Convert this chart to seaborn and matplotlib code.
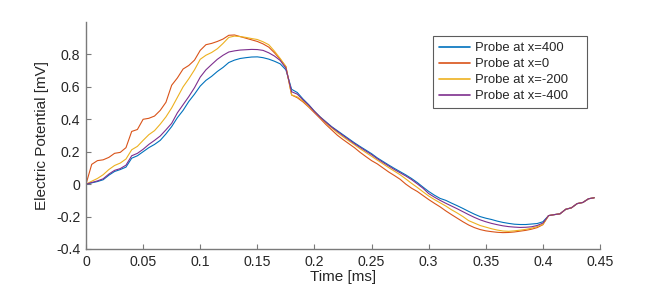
import numpy as np
import pandas as pd
import matplotlib
matplotlib.use('Agg')
import matplotlib.pyplot as plt
import seaborn as sns

# sample times [ms], one every 0.005 ms
time_ms = np.round(np.arange(0, 0.4451, 0.005), 3)

probe_400 = [0, 0.008, 0.016, 0.027, 0.055, 0.078, 0.09, 0.105, 0.16, 0.175,
             0.2, 0.225, 0.245, 0.27, 0.31, 0.355, 0.41, 0.455, 0.51, 0.555,
             0.605, 0.64, 0.665, 0.695, 0.72, 0.75, 0.765, 0.775, 0.78, 0.784,
             0.785, 0.78, 0.771, 0.758, 0.742, 0.705, 0.585, 0.565, 0.525, 0.49,
             0.45, 0.415, 0.385, 0.355, 0.33, 0.305, 0.28, 0.255, 0.232, 0.21,
             0.188, 0.162, 0.14, 0.118, 0.097, 0.077, 0.057, 0.035, 0.01, -0.018,
             -0.045, -0.068, -0.088, -0.1, -0.117, -0.133, -0.15, -0.168, -0.185, -0.2,
             -0.21, -0.218, -0.228, -0.236, -0.242, -0.247, -0.249, -0.249, -0.246, -0.243,
             -0.232, -0.194, -0.188, -0.183, -0.155, -0.146, -0.12, -0.113, -0.09, -0.084]

probe_0 = [0, 0.122, 0.145, 0.15, 0.165, 0.19, 0.196, 0.225, 0.325, 0.337,
           0.4, 0.406, 0.42, 0.455, 0.505, 0.61, 0.655, 0.71, 0.732, 0.765,
           0.825, 0.86, 0.868, 0.88, 0.895, 0.918, 0.92, 0.91, 0.9, 0.89,
           0.88, 0.865, 0.845, 0.81, 0.77, 0.725, 0.55, 0.533, 0.507, 0.475,
           0.44, 0.405, 0.368, 0.335, 0.302, 0.275, 0.25, 0.225, 0.196, 0.17,
           0.145, 0.125, 0.1, 0.075, 0.053, 0.03, 0.0, -0.025, -0.045, -0.07,
           -0.095, -0.118, -0.14, -0.165, -0.188, -0.21, -0.232, -0.252, -0.268, -0.28,
           -0.288, -0.293, -0.297, -0.299, -0.298, -0.295, -0.29, -0.285, -0.278, -0.268,
           -0.25, -0.194, -0.188, -0.183, -0.155, -0.146, -0.12, -0.113, -0.09, -0.084]

probe_m200 = [0, 0.018, 0.035, 0.058, 0.09, 0.115, 0.13, 0.155, 0.212, 0.233,
              0.27, 0.305, 0.33, 0.37, 0.415, 0.47, 0.535, 0.6, 0.65, 0.705,
              0.77, 0.795, 0.812, 0.835, 0.868, 0.905, 0.913, 0.91, 0.905, 0.898,
              0.892, 0.878, 0.86, 0.82, 0.775, 0.725, 0.55, 0.538, 0.512, 0.48,
              0.447, 0.412, 0.378, 0.347, 0.318, 0.292, 0.267, 0.243, 0.218, 0.195,
              0.172, 0.148, 0.125, 0.102, 0.08, 0.058, 0.032, 0.005, -0.02, -0.047,
              -0.073, -0.095, -0.115, -0.135, -0.158, -0.178, -0.2, -0.225, -0.24, -0.255,
              -0.265, -0.275, -0.283, -0.289, -0.291, -0.288, -0.284, -0.279, -0.272, -0.262,
              -0.248, -0.194, -0.188, -0.183, -0.155, -0.146, -0.12, -0.113, -0.09, -0.084]

probe_m400 = [0, 0.01, 0.02, 0.033, 0.062, 0.085, 0.096, 0.117, 0.175, 0.19,
              0.215, 0.245, 0.27, 0.297, 0.335, 0.375, 0.44, 0.49, 0.54, 0.595,
              0.66, 0.705, 0.738, 0.77, 0.795, 0.815, 0.822, 0.827, 0.829, 0.831,
              0.83, 0.825, 0.81, 0.79, 0.763, 0.715, 0.57, 0.555, 0.52, 0.487,
              0.448, 0.413, 0.382, 0.352, 0.326, 0.3, 0.275, 0.25, 0.227, 0.204,
              0.182, 0.157, 0.134, 0.112, 0.09, 0.07, 0.05, 0.028, 0.002, -0.025,
              -0.058, -0.08, -0.1, -0.118, -0.135, -0.152, -0.17, -0.188, -0.205, -0.22,
              -0.232, -0.242, -0.25, -0.257, -0.262, -0.265, -0.267, -0.266, -0.263, -0.255,
              -0.24, -0.194, -0.188, -0.183, -0.155, -0.146, -0.12, -0.113, -0.09, -0.084]

labels = ['Probe at x=400', 'Probe at x=0', 'Probe at x=-200', 'Probe at x=-400']
colors = ['#0072BD', '#D95319', '#EDB120', '#7E2F8E']

x_ticks = [0, 0.05, 0.1, 0.15, 0.2, 0.25, 0.3, 0.35, 0.4, 0.45]
x_tick_labels = ['0', '0.05', '0.1', '0.15', '0.2', '0.25', '0.3', '0.35', '0.4', '0.45']
y_ticks = [-0.4, -0.2, 0, 0.2, 0.4, 0.6, 0.8]
y_tick_labels = ['-0.4', '-0.2', '0', '0.2', '0.4', '0.6', '0.8']

sns.set_style('white')
plt.rcParams['font.family'] = ['Liberation Sans', 'DejaVu Sans']

fig = plt.figure(figsize=(6.64, 2.94), dpi=100)
ax = fig.add_axes([86 / 664, 1 - 249 / 294, 514 / 664, 227 / 294])

for vals, lab, c in zip([probe_400, probe_0, probe_m200, probe_m400], labels, colors):
    sns.lineplot(x=time_ms, y=vals, color=c, label=lab, linewidth=0.8, ax=ax)

ax.set_xlim(0, 0.45)
ax.set_ylim(-0.4, 1.0)
ax.set_xticks(x_ticks)
ax.set_xticklabels(x_tick_labels)
ax.set_yticks(y_ticks)
ax.set_yticklabels(y_tick_labels)
ax.set_xlabel('Time [ms]', fontsize=11, color='#262626', labelpad=1)
ax.set_ylabel('Electric Potential [mV]', fontsize=11, color='#262626', labelpad=5)

sns.despine(ax=ax)
for s in ['left', 'bottom']:
    ax.spines[s].set_color('#7a7a7a')
    ax.spines[s].set_linewidth(1.0)
ax.tick_params(direction='in', length=3.5, width=0.8, color='#7a7a7a',
               labelsize=10.2, labelcolor='#262626', pad=4,
               bottom=True, left=True)

# matlab-style legend box, a bit wider than the text
leg = ax.legend(loc='upper left', bbox_to_anchor=(0.675, 0.62, 0.3, 0.318),
                mode='expand', fontsize=9.4, frameon=True, fancybox=False,
                handlelength=2.4, handletextpad=0.4, labelspacing=0.3,
                borderpad=0.45, borderaxespad=0)
leg.get_frame().set_edgecolor('#333333')
leg.get_frame().set_linewidth(0.8)
for line in leg.get_lines():
    line.set_linewidth(1.2)

fig.savefig('out.png', dpi=100)
